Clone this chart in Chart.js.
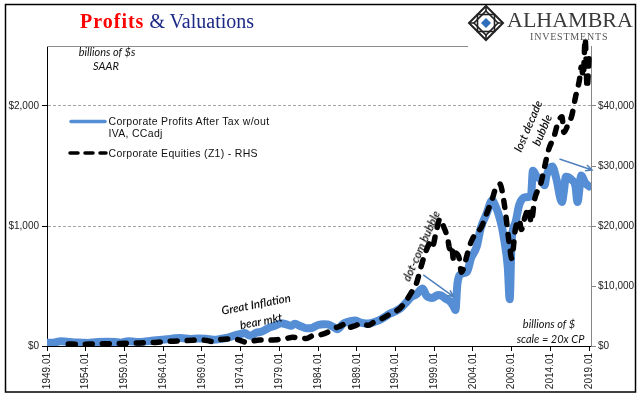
<!DOCTYPE html>
<html>
<head>
<meta charset="utf-8">
<script src="https://cdn.jsdelivr.net/npm/chart.js@4.4.1/dist/chart.umd.min.js"></script>
<style>
  html, body { margin: 0; padding: 0; background: #fff; }
  #wrap { position: relative; width: 641px; height: 409px; overflow: hidden; background: #fff; }
  #chart { position: absolute; left: 0; top: 0; }
  .lbl { position: absolute; white-space: nowrap; line-height: 1; }
  .note { font-family: Lato, "Open Sans", sans-serif; font-style: italic; font-size: 11px; color: #111; transform: translate(-50%, -50%); }
  .big { font-size: 11.5px; font-weight: 600; }
  .key { font-family: "Liberation Sans", Arial, sans-serif; font-size: 10.5px; letter-spacing: 0.3px; color: #111; }
</style>
</head>
<body>
<div id="wrap">
  <canvas id="chart" width="641" height="409"></canvas>

  <div class="lbl" style="left:80px; top:11px; font-family:'Liberation Serif', serif; font-size:20px;">
    <span style="color:#ff0000; font-weight:bold; letter-spacing:1px;">Profits</span><span style="color:#1c2a86;"> &amp; Valuations</span>
  </div>

  <div class="lbl" style="left:507px; top:8.6px; font-family:'Liberation Serif', serif; font-size:22px; color:#3a3a3a;">ALHAMBRA</div>
  <div class="lbl" style="left:530px; top:31.6px; font-family:'Liberation Serif', serif; font-size:10px; letter-spacing:0.8px; color:#555;">INVESTMENTS</div>

  <div class="lbl note" style="left:107px; top:51px;">billions of $s</div>
  <div class="lbl note" style="left:106px; top:65px;">SAAR</div>

  <div class="lbl key" style="left:108.5px; top:116px;">Corporate Profits After Tax w/out</div>
  <div class="lbl key" style="left:108.5px; top:128px;">IVA, CCadj</div>
  <div class="lbl key" style="left:108.5px; top:148px;">Corporate Equities (Z1) - RHS</div>

  <div class="lbl note big" style="left:256px; top:304px; transform:translate(-50%,-50%) rotate(-11deg);">Great Inflation</div>
  <div class="lbl note big" style="left:260.5px; top:320.5px; transform:translate(-50%,-50%) rotate(-11deg);">bear mkt</div>
  <div class="lbl note big" style="left:421px; top:246px; transform:translate(-50%,-50%) rotate(-66deg);">dot-com bubble</div>
  <div class="lbl note big" style="left:527.5px; top:126px; transform:translate(-50%,-50%) rotate(-67deg);">lost decade</div>
  <div class="lbl note big" style="left:541.7px; top:130px; transform:translate(-50%,-50%) rotate(-67deg);">bubble</div>

  <div class="lbl note" style="left:549px; top:323px;">billions of $</div>
  <div class="lbl note" style="left:550.5px; top:337.5px;">scale = 20x CP</div>
</div>

<script>
// corporate profits after tax w/out IVA, CCadj ($bn SAAR)
const profitDates = [1949.0, 1950.0, 1950.75, 1951.5, 1952.5, 1953.5, 1954.25, 1955.5, 1956.75, 1957.75,
  1958.5, 1959.5, 1960.5, 1961.5, 1962.5, 1963.5, 1964.5, 1965.5, 1966.25, 1967.5,
  1968.5, 1969.5, 1970.5, 1971.5, 1972.5, 1973.25, 1974.0, 1974.5, 1975.25, 1976.0,
  1976.75, 1977.75, 1978.5, 1979.25, 1980.0, 1980.5, 1981.0, 1981.75, 1982.5, 1983.25,
  1984.0, 1984.75, 1985.25, 1986.0, 1986.5, 1987.25, 1987.75, 1988.75, 1989.5, 1990.25,
  1990.75, 1991.5, 1992.25, 1993.25, 1994.0, 1994.75, 1995.5, 1996.0, 1996.75, 1997.5,
  1998.0, 1998.75, 1999.5, 2000.0, 2000.5, 2001.0, 2001.5, 2001.75, 2002.0, 2002.5,
  2003.25, 2003.75, 2004.5, 2005.0, 2005.75, 2006.5, 2006.75, 2007.25, 2007.75, 2008.0,
  2008.5, 2008.75, 2009.0, 2009.5, 2010.0, 2010.75, 2011.5, 2011.75, 2012.25, 2012.75,
  2013.25, 2013.5, 2014.25, 2014.75, 2015.5, 2015.75, 2016.0, 2016.75, 2017.25, 2017.5,
  2018.0, 2018.5, 2019.0];
const profitValues = [26, 30, 40, 36, 30, 28, 26, 34, 35, 33,
  28, 40, 34, 36, 44, 50, 56, 64, 66, 58,
  62, 60, 52, 60, 72, 88, 100, 108, 85, 110,
  120, 155, 170, 190, 178, 168, 185, 165, 148, 152,
  175, 182, 180, 158, 140, 185, 200, 212, 195, 188,
  190, 205, 228, 268, 290, 320, 370, 406, 433, 480,
  420, 400, 425, 418, 392, 375, 330, 300, 520, 600,
  620, 730, 830, 980, 1100, 1215, 1190, 1110, 990, 900,
  660, 390, 880, 1030, 1180, 1240, 1250, 1460, 1410, 1390,
  1340, 1420, 1495, 1400, 1200, 1290, 1410, 1385, 1330, 1200,
  1420, 1360, 1330];

// corporate equities (Z1), $bn, right hand scale
const equityDates = [1951.75, 1953.0, 1954.5, 1955.75, 1957.0, 1958.5, 1959.75, 1961.0, 1962.5, 1963.75,
  1965.0, 1966.5, 1967.75, 1968.75, 1969.75, 1970.5, 1971.25, 1972.5, 1973.5, 1974.0,
  1974.75, 1975.5, 1976.5, 1977.75, 1978.75, 1979.75, 1980.75, 1981.75, 1982.5, 1983.25,
  1984.25, 1985.25, 1986.0, 1986.75, 1987.5, 1987.75, 1988.75, 1989.5, 1990.5, 1991.25,
  1992.0, 1993.25, 1994.5, 1995.25, 1996.0, 1996.75, 1997.25, 1998.0, 1998.5, 1998.75,
  1999.25, 1999.75, 2000.25, 2000.75, 2001.0, 2001.25, 2001.5, 2001.75, 2002.25, 2002.5,
  2002.75, 2003.25, 2003.75, 2004.5, 2005.0, 2005.75, 2006.5, 2007.0, 2007.5, 2007.75,
  2008.25, 2008.5, 2008.75, 2009.0, 2009.5, 2010.0, 2010.25, 2010.75, 2011.25, 2011.5,
  2012.0, 2012.75, 2013.25, 2013.75, 2014.5, 2015.0, 2015.5, 2015.75, 2016.25, 2016.75,
  2017.25, 2017.75, 2018.0, 2018.25, 2018.5, 2018.75, 2019.0];
const equityValues = [330, 300, 330, 400, 380, 420, 470, 520, 560, 680,
  800, 880, 960, 1030, 900, 720, 1050, 1180, 1100, 900,
  620, 820, 1000, 980, 1060, 1200, 1450, 1300, 1260, 1700,
  1850, 2300, 2900, 3250, 3650, 3050, 3350, 3750, 3450, 4000,
  4400, 5300, 6200, 7300, 8800, 10600, 13000, 16000, 17200, 16500,
  19000, 21200, 19800, 17900, 16200, 16800, 14300, 15500, 14500, 12300,
  12800, 15200, 17300, 19000, 19600, 22000, 24500, 26500, 27000, 26000,
  21800, 19000, 16500, 14600, 19600, 21000, 19400, 21600, 23000, 20600,
  24600, 27000, 29800, 32600, 35000, 37300, 38200, 35600, 36800, 38300,
  41500, 44300, 46500, 45000, 51200, 43000, 48200];

const xTickYears = [1949, 1954, 1959, 1964, 1969, 1974, 1979, 1984, 1989, 1994, 1999, 2004, 2009, 2014, 2019];
const xTickLabels = ["1949.01", "1954.01", "1959.01", "1964.01", "1969.01", "1974.01", "1979.01", "1984.01",
  "1989.01", "1994.01", "1999.01", "2004.01", "2009.01", "2014.01", "2019.01"];
const leftTicks = [0, 1000, 2000];
const leftTickLabels = ["$0", "$1,000", "$2,000"];
const rightTicks = [0, 10000, 20000, 30000, 40000];
const rightTickLabels = ["$0", "$10,000", "$20,000", "$30,000", "$40,000"];

// arrows, in data units [fromYear, fromValue(left scale), toYear, toValue]
const arrows = [
  [1997.59, 592, 2001.49, 412],
  [2015.18, 1558, 2019.38, 1467]
];

const BLUE = "#558ED5";
const tickFont = { family: "'Liberation Sans', Arial, sans-serif", size: 10 };

const decor = {
  id: "decor",
  beforeDraw(chart) {
    const ctx = chart.ctx;
    ctx.save();
    ctx.fillStyle = "#fff";
    ctx.fillRect(0, 0, chart.width, chart.height);
    ctx.restore();
  },
  beforeDatasetsDraw(chart) {
    const ctx = chart.ctx;
    const area = chart.chartArea;
    ctx.save();
    // top edge of the plot, cut off by the logo
    ctx.strokeStyle = "#8c8c8c";
    ctx.lineWidth = 1;
    ctx.beginPath();
    ctx.moveTo(area.left, area.top + 0.5);
    ctx.lineTo(468, area.top + 0.5);
    ctx.stroke();

    // logo mark
    const cx = 486, cy = 23, r = 17;
    ctx.strokeStyle = "#222";
    ctx.lineWidth = 2;
    ctx.beginPath();
    ctx.moveTo(cx, cy - r); ctx.lineTo(cx + r, cy); ctx.lineTo(cx, cy + r); ctx.lineTo(cx - r, cy); ctx.closePath();
    ctx.stroke();
    ctx.lineWidth = 1.6;
    ctx.strokeRect(cx - 8.5, cy - 8.5, 17, 17);
    ctx.beginPath();
    ctx.moveTo(cx, cy - 12); ctx.lineTo(cx + 12, cy); ctx.lineTo(cx, cy + 12); ctx.lineTo(cx - 12, cy); ctx.closePath();
    ctx.stroke();
    ctx.beginPath();
    ctx.moveTo(cx - r, cy); ctx.lineTo(cx - 12, cy);
    ctx.moveTo(cx + 12, cy); ctx.lineTo(cx + r, cy);
    ctx.moveTo(cx, cy - r); ctx.lineTo(cx, cy - 12);
    ctx.moveTo(cx, cy + 12); ctx.lineTo(cx, cy + r);
    ctx.stroke();
    ctx.fillStyle = "#2f6eba";
    ctx.beginPath();
    ctx.moveTo(cx, cy - 5); ctx.lineTo(cx + 5, cy); ctx.lineTo(cx, cy + 5); ctx.lineTo(cx - 5, cy); ctx.closePath();
    ctx.fill();
    ctx.restore();
  },
  afterDatasetsDraw(chart) {
    const ctx = chart.ctx;
    const xs = chart.scales.x, ys = chart.scales.y;
    ctx.save();
    ctx.strokeStyle = "#4f81bd";
    ctx.lineWidth = 1.5;
    arrows.forEach(function (a) {
      const x1 = xs.getPixelForValue(a[0]), y1 = ys.getPixelForValue(a[1]);
      const x2 = xs.getPixelForValue(a[2]), y2 = ys.getPixelForValue(a[3]);
      const ang = Math.atan2(y2 - y1, x2 - x1);
      ctx.beginPath();
      ctx.moveTo(x1, y1);
      ctx.lineTo(x2, y2);
      ctx.moveTo(x2 - 7 * Math.cos(ang - 0.45), y2 - 7 * Math.sin(ang - 0.45));
      ctx.lineTo(x2, y2);
      ctx.lineTo(x2 - 7 * Math.cos(ang + 0.45), y2 - 7 * Math.sin(ang + 0.45));
      ctx.stroke();
    });
    ctx.restore();
  },
  afterDraw(chart) {
    const ctx = chart.ctx;
    ctx.save();
    // legend keys
    ctx.lineCap = "round";
    ctx.strokeStyle = BLUE;
    ctx.lineWidth = 3.5;
    ctx.beginPath();
    ctx.moveTo(71, 121.5);
    ctx.lineTo(105, 121.5);
    ctx.stroke();
    ctx.strokeStyle = "#000";
    ctx.setLineDash([8, 7]);
    ctx.beginPath();
    ctx.moveTo(70, 153);
    ctx.lineTo(106, 153);
    ctx.stroke();
    ctx.setLineDash([]);
    // outer frame
    ctx.lineCap = "butt";
    ctx.lineWidth = 1.5;
    ctx.strokeStyle = "#000";
    ctx.strokeRect(5.5, 4.5, 630, 387.5);
    ctx.restore();
  }
};

new Chart(document.getElementById("chart"), {
  type: "line",
  data: {
    datasets: [
      {
        label: "Corporate Equities (Z1) - RHS",
        data: equityDates.map(function (d, i) { return { x: d, y: equityValues[i] }; }),
        yAxisID: "y1",
        borderColor: "#000",
        borderWidth: 5.5,
        borderDash: [7, 10],
        borderCapStyle: "round",
        borderJoinStyle: "round",
        pointRadius: 0,
        cubicInterpolationMode: "monotone",
        clip: false,
        order: 1
      },
      {
        label: "Corporate Profits After Tax w/out IVA, CCadj",
        data: profitDates.map(function (d, i) { return { x: d, y: profitValues[i] }; }),
        yAxisID: "y",
        borderColor: BLUE,
        borderWidth: 8,
        borderCapStyle: "round",
        borderJoinStyle: "round",
        pointRadius: 0,
        cubicInterpolationMode: "monotone",
        order: 2
      }
    ]
  },
  options: {
    responsive: false,
    animation: false,
    devicePixelRatio: 1,
    layout: { padding: { top: 46, left: 0, right: 0, bottom: 0 } },
    plugins: { legend: { display: false }, tooltip: { enabled: false } },
    scales: {
      x: {
        type: "linear",
        min: 1949,
        max: 2019.25,
        afterBuildTicks: function (s) { s.ticks = xTickYears.map(function (v) { return { value: v }; }); },
        afterFit: function (s) { s.height = 63; },
        grid: { drawOnChartArea: false, tickLength: 5, tickColor: "#000" },
        border: { color: "#000", width: 1 },
        ticks: {
          minRotation: 90, maxRotation: 90, autoSkip: false, padding: 2,
          color: "#222", font: tickFont,
          callback: function (v, i) { return xTickLabels[i]; }
        }
      },
      y: {
        position: "left",
        min: 0,
        max: 2500,
        afterBuildTicks: function (s) { s.ticks = leftTicks.map(function (v) { return { value: v }; }); },
        afterFit: function (s) { s.width = 47; },
        grid: {
          color: function (c) { return c.tick && c.tick.value > 0 ? "#a6a6a6" : "rgba(0,0,0,0)"; },
          tickColor: "#000",
          tickLength: 5,
          lineWidth: 1
        },
        border: { color: "#000", width: 1, dash: [3, 2] },
        ticks: { padding: 3, color: "#222", font: tickFont, callback: function (v, i) { return leftTickLabels[i]; } }
      },
      y1: {
        position: "right",
        min: 0,
        max: 50000,
        afterBuildTicks: function (s) { s.ticks = rightTicks.map(function (v) { return { value: v }; }); },
        afterFit: function (s) { s.width = 50; },
        grid: { drawOnChartArea: false, tickColor: "#868686", tickLength: 5 },
        border: { color: "#868686", width: 1 },
        ticks: { padding: 2, color: "#222", font: tickFont, callback: function (v, i) { return rightTickLabels[i]; } }
      }
    }
  },
  plugins: [decor]
});
</script>
</body>
</html>
